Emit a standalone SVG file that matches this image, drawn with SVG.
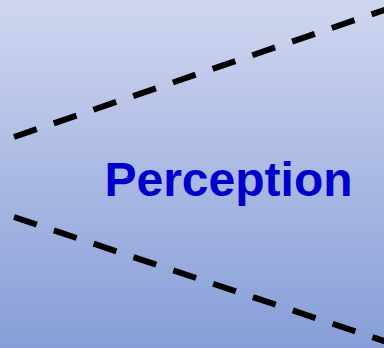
<svg xmlns="http://www.w3.org/2000/svg" width="384" height="348" viewBox="0 0 384 348">
  <defs>
    <linearGradient id="bg" x1="0" y1="0" x2="0" y2="1">
      <stop offset="0" stop-color="#D0D6EF"/>
      <stop offset="1" stop-color="#869ED8"/>
    </linearGradient>
    <style>
      .dash { fill: none; stroke: #000; stroke-width: 6; stroke-dasharray: 24 18; stroke-linecap: butt; }
      .label { font-family: "Liberation Sans", Arial, sans-serif; font-weight: bold; font-size: 48px; fill: #0000CC; }
    </style>
  </defs>
  <rect x="0" y="0" width="384" height="348" fill="url(#bg)"/>
  <g id="connectors">
    <line class="dash" x1="14" y1="137" x2="404" y2="3.2"/>
    <line class="dash" x1="14" y1="217" x2="404" y2="347.7"/>
  </g>
  <g id="perception">
    <text class="label" x="228.5" y="196" text-anchor="middle">Perception</text>
  </g>
</svg>
